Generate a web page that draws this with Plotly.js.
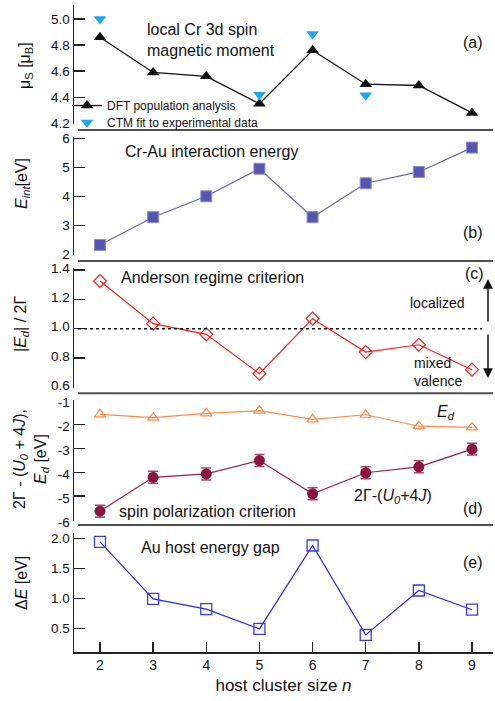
<!DOCTYPE html>
<html>
<head>
<meta charset="utf-8">
<script src="https://cdn.plot.ly/plotly-3.0.1.min.js"></script>
<style>html,body{margin:0;padding:0;background:#fff;}#chart{width:495px;height:701px;}</style>
</head>
<body>
<div id="chart"></div>
<script>
// ---- data ----
const hostSize = [2, 3, 4, 5, 6, 7, 8, 9];
const muDFT = [4.86, 4.59, 4.56, 4.35, 4.76, 4.50, 4.49, 4.28];
const ctmSize = [2, 5, 6, 7];
const muCTM = [5.00, 4.42, 4.885, 4.415];
const eInt = [2.32, 3.28, 4.00, 4.95, 3.28, 4.45, 4.84, 5.68];
const andersonRatio = [1.325, 1.034, 0.961, 0.693, 1.068, 0.84, 0.89, 0.72];
const eD = [-1.57, -1.71, -1.53, -1.42, -1.78, -1.59, -2.07, -2.12];
const spinCrit = [-5.63, -4.21, -4.07, -3.51, -4.90, -4.02, -3.77, -3.03];
const spinErr = [0.25, 0.25, 0.25, 0.25, 0.25, 0.25, 0.25, 0.25];
const gapE = [1.94, 0.99, 0.82, 0.49, 1.88, 0.39, 1.13, 0.81];
const dTickVals = [-6, -5, -4, -3, -2, -1];
const dTickText = ['-6', '-5', '-4', '-3', '-2', '-1'];

// ---- geometry helpers (pixel -> paper) ----
const L = 74, R = 493, T = 5, B = 652;
const W = R - L, H = B - T;
const px = v => (v - L) / W;
const py = v => (B - v) / H;

const FONT = 'Arial, "Liberation Sans", Helvetica, sans-serif';
const AX = '#222';
const TICKSIZE = 14;
const YTICKSIZE = 13.5;

const traces = [
  {x: hostSize, y: muDFT, xaxis: 'x', yaxis: 'y', mode: 'lines+markers', name: 'DFT population analysis', legend: 'legend',
   line: {color: '#111', width: 1.3}, marker: {symbol: 'triangle-up', size: 11, color: '#111'}, cliponaxis: false},
  {x: ctmSize, y: muCTM, xaxis: 'x', yaxis: 'y', mode: 'markers', name: 'CTM fit to experimental data', legend: 'legend2',
   marker: {symbol: 'triangle-down', size: 11, color: '#1ea6f2'}, cliponaxis: false},
  {x: hostSize, y: eInt, xaxis: 'x', yaxis: 'y2', mode: 'lines+markers', showlegend: false,
   line: {color: '#6464c4', width: 1.2}, marker: {symbol: 'square', size: 11, color: '#5656b0', line: {color: '#8e8ed6', width: 1}}, cliponaxis: false},
  {x: hostSize, y: andersonRatio, xaxis: 'x', yaxis: 'y3', mode: 'lines+markers', showlegend: false,
   line: {color: '#ff1a1a', width: 1.2}, marker: {symbol: 'diamond-open', size: 10, color: '#ff1a1a', line: {width: 1.2}}, cliponaxis: false},
  {x: hostSize, y: eD, xaxis: 'x', yaxis: 'y4', mode: 'lines+markers', showlegend: false,
   line: {color: '#ff8a4c', width: 1.2}, marker: {symbol: 'triangle-up-open', size: 10, color: '#ff8a4c', line: {width: 1.2}}, cliponaxis: false},
  {x: hostSize, y: spinCrit, xaxis: 'x', yaxis: 'y4', mode: 'lines+markers', showlegend: false,
   line: {color: '#9a1f4c', width: 1.2}, marker: {symbol: 'circle', size: 11, color: '#8a1640'},
   error_y: {type: 'data', array: spinErr, visible: true, color: '#a8456a', thickness: 1.5, width: 5}, cliponaxis: false},
  {x: hostSize, y: gapE, xaxis: 'x', yaxis: 'y5', mode: 'lines+markers', showlegend: false,
   line: {color: '#2a2aee', width: 1.2}, marker: {symbol: 'square-open', size: 11, color: '#3a3af0', line: {width: 1.3}}, cliponaxis: false}
];

function yax(domain, range, extra) {
  return Object.assign({
    domain: domain, range: range, anchor: 'x', showline: true, linecolor: AX, linewidth: 1.5,
    ticks: 'inside', ticklen: 11, tickwidth: 1.5, tickcolor: AX, showgrid: false, zeroline: false,
    tickfont: {size: YTICKSIZE, color: '#111'}, fixedrange: true
  }, extra || {});
}

const legendBase = {xanchor: 'left', yanchor: 'top', bgcolor: 'rgba(0,0,0,0)',
  font: {size: 12, color: '#111'}, itemwidth: 30, tracegroupgap: 0};

const layout = {
  width: 495, height: 701,
  margin: {l: L, r: 495 - R, t: T, b: 701 - B},
  paper_bgcolor: '#fff', plot_bgcolor: 'rgba(0,0,0,0)',
  font: {family: FONT, color: '#111'},
  showlegend: true,
  legend: Object.assign({x: px(67), y: py(91)}, legendBase),
  legend2: Object.assign({x: px(67), y: py(108)}, legendBase),
  xaxis: {domain: [0, 1], anchor: 'y5', range: [1.511, 9.395], tickvals: hostSize,
          showline: true, linecolor: AX, linewidth: 1.5, ticks: 'inside', ticklen: 10, tickwidth: 1.5, tickcolor: AX,
          showgrid: false, zeroline: false, tickfont: {size: TICKSIZE, color: '#111'},
          title: {text: 'host cluster size <i>n</i>', font: {size: 17, color: '#111'}, standoff: 7}},
  xaxis2: {overlaying: 'x', side: 'top', anchor: 'y', range: [1.511, 9.395], tickvals: hostSize,
           showline: true, linecolor: AX, linewidth: 1.5, ticks: 'inside', ticklen: 10, tickwidth: 1.5, tickcolor: AX,
           showticklabels: false, showgrid: false, zeroline: false},
  yaxis: yax([py(124), 1], [4.195, 5.107], {tickvals: [4.2, 4.4, 4.6, 4.8, 5.0], tickformat: '.1f'}),
  yaxis2: yax([py(255), py(136.7)], [1.976, 6.055], {tickvals: [2, 3, 4, 5, 6]}),
  yaxis3: yax([py(388), py(268)], [0.5952, 1.4136], {tickvals: [0.6, 0.8, 1.0, 1.2, 1.4], tickformat: '.1f', ticklabelshift: -2}),
  yaxis4: yax([py(521), py(400)], [-6.042, -0.971], {tickvals: dTickVals, ticktext: dTickText, ticklabelshift: 2}),
  yaxis5: yax([0, py(533.3)], [0.105, 2.083], {tickvals: [0.5, 1.0, 1.5, 2.0], tickformat: '.1f'}),
  shapes: [
    ...[130, 261, 393.3, 525].map(v => ({type: 'line', xref: 'paper', yref: 'paper', x0: px(78), x1: 1, y0: py(v), y1: py(v),
      line: {color: '#505050', width: 2}})),
    {type: 'line', xref: 'paper', yref: 'y3', x0: px(78), x1: px(482), y0: 1.0, y1: 1.0, line: {color: '#111', width: 1.5, dash: 'dot'}}
  ],
  annotations: []
};

const ann = layout.annotations;
function txt(t, x, y, xa, size, extra) {
  ann.push(Object.assign({text: t, xref: 'paper', yref: 'paper', x: px(x), y: py(y), xanchor: xa || 'left', yanchor: 'middle',
    showarrow: false, font: {size: size || 16, color: '#111'}, align: 'left'}, extra || {}));
}
// panel texts
txt('local Cr 3d spin<br>magnetic moment', 145, 40, 'left', 16);
txt('(a)', 473, 42, 'center', 16);
txt('Cr-Au interaction energy', 123, 151, 'left', 16);
txt('(b)', 473, 233, 'center', 16);
txt('Anderson regime criterion', 119, 277, 'left', 16);
txt('(c)', 474, 273, 'center', 16);
txt('localized', 437, 303, 'center', 14);
txt('mixed<br>valence', 412, 372, 'left', 14);
txt('<i>E<sub>d</sub></i>', 446, 412, 'center', 16);
txt('2Γ-(<i>U<sub>0</sub></i>+4<i>J</i>)', 352, 496, 'left', 16);
txt('spin polarization criterion', 117, 511, 'left', 16);
txt('(d)', 473, 508, 'center', 16);
txt('Au host energy gap', 139, 547, 'left', 16);
txt('(e)', 473, 562, 'center', 16);
// y-axis titles
txt('μ<sub>S</sub> [μ<sub>B</sub>]', 25, 66, 'center', 16, {textangle: -90});
txt('<i>E<sub>int</sub></i>[eV]', 22, 184, 'center', 16, {textangle: -90});
txt('|<i>E<sub>d</sub></i>| / 2Γ', 21, 324, 'center', 16, {textangle: -90});
txt('2Γ - (<i>U<sub>0</sub></i> + 4<i>J</i>),<br><i>E<sub>d</sub></i> [eV]', 31, 459, 'center', 16, {textangle: -90, align: 'center'});
txt('Δ<i>E</i> [eV]', 21, 583, 'center', 16, {textangle: -90});
// regime arrows
ann.push({text: '', xref: 'paper', yref: 'paper', x: px(488), y: py(279), ax: 0, ay: 44, showarrow: true,
  arrowhead: 2, arrowsize: 1.3, arrowwidth: 1.5, arrowcolor: '#111'});
ann.push({text: '', xref: 'paper', yref: 'paper', x: px(488), y: py(378), ax: 0, ay: -45, showarrow: true,
  arrowhead: 2, arrowsize: 1.3, arrowwidth: 1.5, arrowcolor: '#111'});

Plotly.newPlot('chart', traces, layout, {displayModeBar: false, staticPlot: true});
</script>
</body>
</html>
